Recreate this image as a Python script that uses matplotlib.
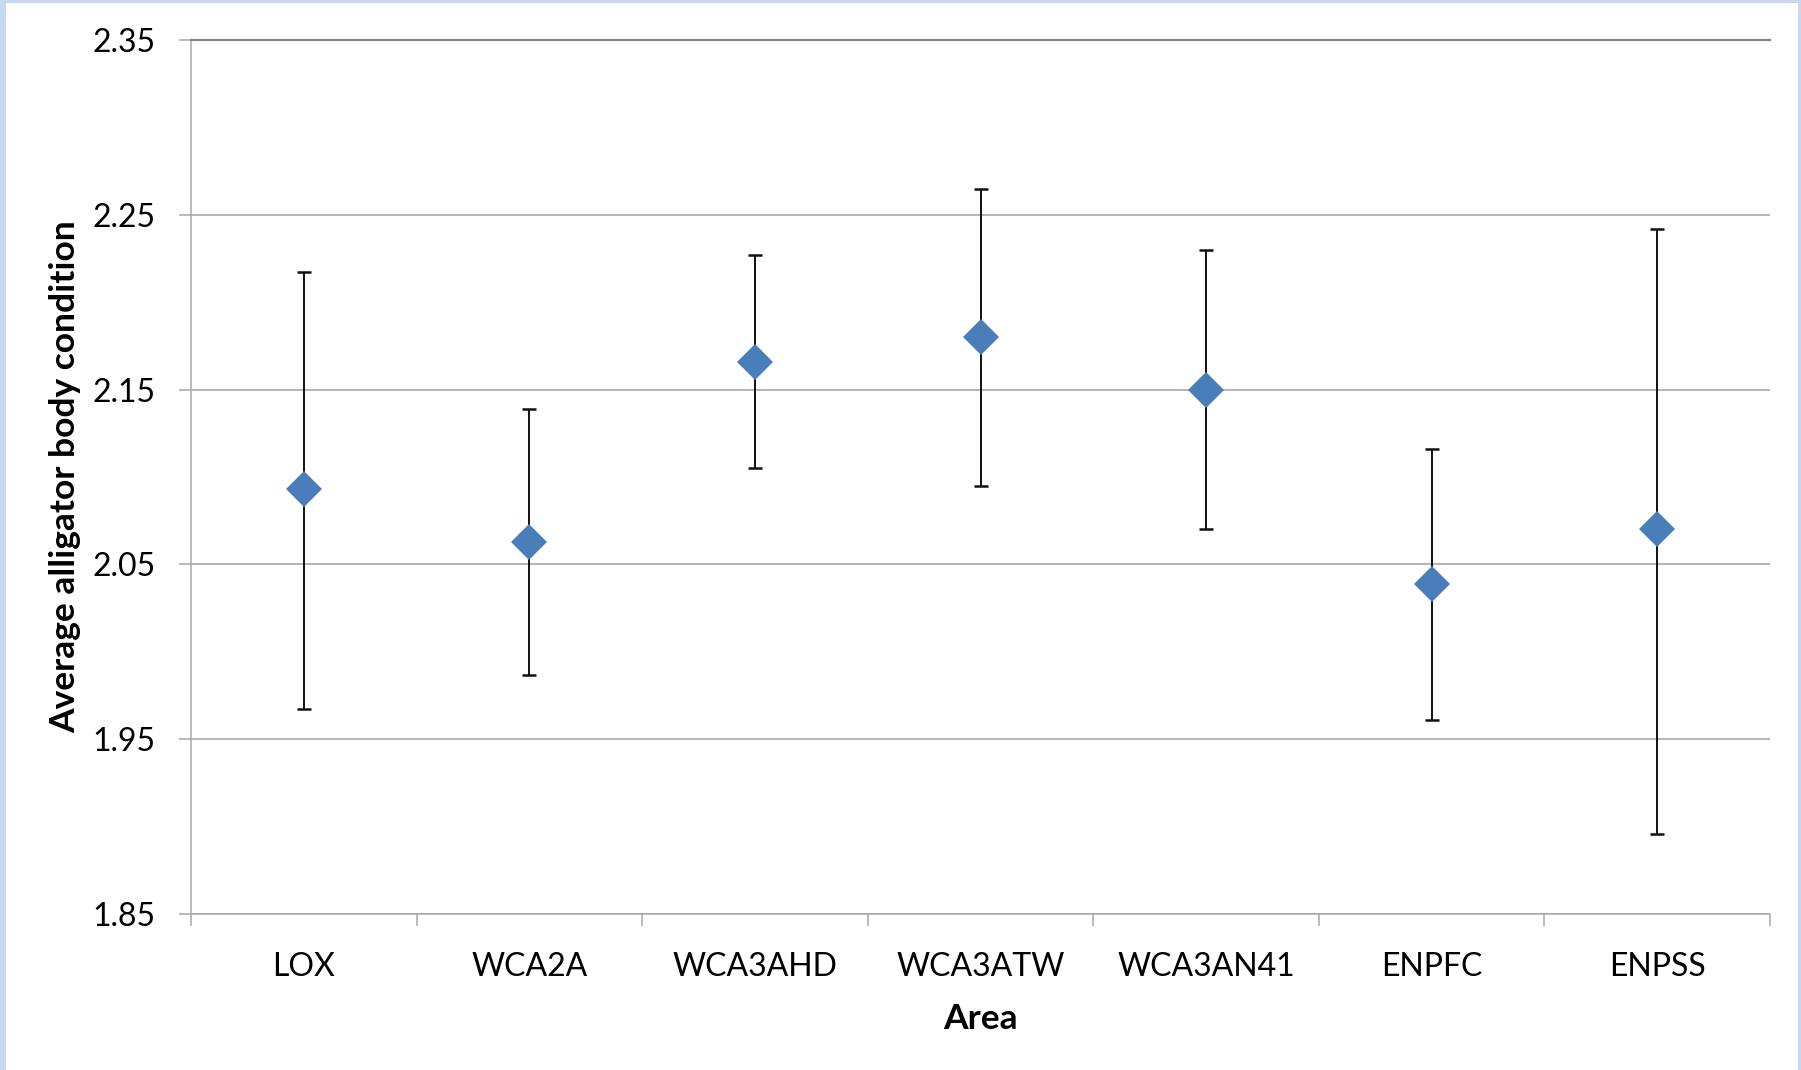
import matplotlib
matplotlib.use("Agg")
import matplotlib.pyplot as plt
from matplotlib.patches import Rectangle
import numpy as np

categories = ['LOX', 'WCA2A', 'WCA3AHD', 'WCA3ATW', 'WCA3AN41', 'ENPFC', 'ENPSS']
means = [2.093, 2.063, 2.166, 2.180, 2.150, 2.039, 2.070]
upper = [2.217, 2.139, 2.227, 2.265, 2.230, 2.116, 2.242]
lower = [1.967, 1.987, 2.105, 2.095, 2.070, 1.961, 1.896]
yticks = [1.85, 1.95, 2.05, 2.15, 2.25, 2.35]
ytick_labels = ['1.85', '1.95', '2.05', '2.15', '2.25', '2.35']

W, H = 1801, 1070
DPI = 100
plt.rcParams['font.family'] = ['Lato', 'DejaVu Sans']

fig = plt.figure(figsize=(W / DPI, H / DPI), dpi=DPI, facecolor='#c6d9f1')
fig.patches.append(Rectangle((6 / W, 0), (1798 - 6) / W, (H - 3) / H,
                             transform=fig.transFigure, facecolor='white',
                             edgecolor='none', zorder=-10))

L, R, T, B = 191, 1770, 40, 914
ax = fig.add_axes([L / W, (H - B) / H, (R - L) / W, (B - T) / H])
ax.set_zorder(5)
ax.set_facecolor('white')

x = np.arange(len(categories))
m = np.array(means)
err = [m - np.array(lower), np.array(upper) - m]
ax.errorbar(x, m, yerr=err, fmt='none', ecolor='#111111', elinewidth=1.4,
            capsize=4.7, capthick=1.8, zorder=3)
ax.plot(x, m, linestyle='none', marker='D', markersize=18.3,
        color='#4a7ebb', markeredgewidth=0, zorder=4)

ax.set_xlim(-0.5, len(categories) - 0.5)
ax.set_ylim(1.85, 2.35)

grid_c = '#a8a8a8'
ax.set_yticks(yticks)
ax.set_yticklabels(ytick_labels)
ax.yaxis.grid(True, color=grid_c, linewidth=1.2)
ax.set_axisbelow(True)

ax.set_xticks(np.arange(-0.5, len(categories), 1.0))
ax.set_xticklabels([])
ax.set_xticks(x, minor=True)
ax.set_xticklabels(categories, minor=True)

ax.tick_params(axis='y', which='major', length=8.6, width=1.1, color=grid_c,
               labelsize=23, pad=17, labelcolor='black')
ax.tick_params(axis='x', which='major', length=8.6, width=1.1, color=grid_c)
ax.tick_params(axis='x', which='minor', length=0, labelsize=23, pad=27,
               labelcolor='black')

ax.spines['right'].set_visible(False)
ax.spines['left'].set_color(grid_c)
ax.spines['left'].set_linewidth(1.1)
ax.spines['bottom'].set_color(grid_c)
ax.spines['bottom'].set_linewidth(1.1)
ax.spines['top'].set_color('#868686')
ax.spines['top'].set_linewidth(1.6)

ax.set_xlabel('Area', fontsize=25.5, fontweight='bold')
ax.xaxis.set_label_coords(0.5, (B - 1019) / (B - T))
ax.xaxis.label.set_va('center')
ax.set_ylabel('Average alligator body condition', fontsize=25.5, fontweight='bold')
ax.yaxis.set_label_coords((65 - L) / (R - L), 0.5)
ax.yaxis.label.set_va('center')

fig.savefig('out.png', dpi=DPI, facecolor=fig.get_facecolor())
